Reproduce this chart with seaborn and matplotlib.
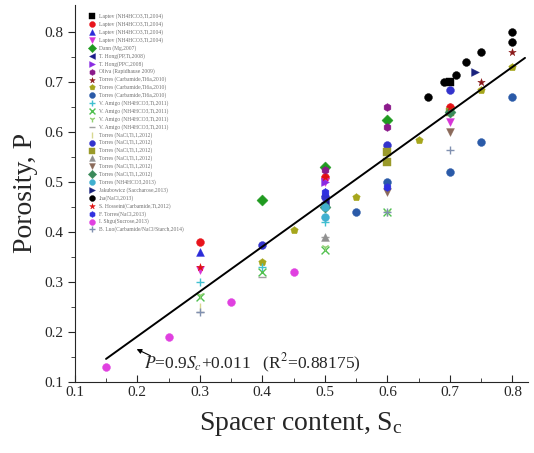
import numpy as np
import pandas as pd
import matplotlib
matplotlib.use("Agg")
import matplotlib.pyplot as plt
import seaborn as sns

# series: label, marker, colour, x values, y values
labels = [
    "Laptev (NH4HCO3,Ti,2004)", "Laptev (NH4HCO3,Ti,2004)", "Laptev (NH4HCO3,Ti,2004)",
    "Laptev (NH4HCO3,Ti,2004)", "Dann (Mg,2007)", "T. Hong(PP,Ti,2008)", "T. Hong(PPC,2008)",
    "Oliva (Rapidhause 2009)", "Torres (Carbamide,Ti6a,2010)", "Torres (Carbamide,Ti6a,2010)",
    "Torres (Carbamide,Ti6a,2010)", "V. Amigo (NH4HCO3,Ti,2011)", "V. Amigo (NH4HCO3,Ti,2011)",
    "V. Amigo (NH4HCO3,Ti,2011)", "V. Amigo (NH4HCO3,Ti,2011)", "Torres (NaCl,Ti,1,2012)",
    "Torres (NaCl,Ti,1,2012)", "Torres (NaCl,Ti,1,2012)", "Torres (NaCl,Ti,1,2012)",
    "Torres (NaCl,Ti,1,2012)", "Torres (NaCl,Ti,1,2012)", "Torres (NH4HCO3,2013)",
    "Jakubowicz (Saccharose,2013)", "Jha(NaCl,2013)", "S. Hosseini(Carbamide,Ti,2012)",
    "F. Torres(NaCl,2013)", "I. Shgu(Sucrose,2013)", "B. Luo(Carbamide/NaCl/Starch,2014)",
]
markers = ["s", "o", "^", "v", "D", "<", ">", "h", "*", "p", "o", "+", "x", "1", "_",
           "|", "o", "s", "^", "v", "D", "o", ">", "o", "*", "h", "o", "+"]
colors = ["black", "#e8141c", "#2b2bd9", "#d633d6", "#1f9a1f", "#1c1c8c", "#8a2be2",
          "#8b1a8b", "#8b1a1a", "#a6a61c", "#2a5aa8", "#40c0d0", "#50c050", "#90d070",
          "#a0a0a0", "#d8d890", "#3333cc", "#9a9a2a", "#909090", "#8b6a5a", "#3a8a5a",
          "#40b0d0", "#1a237e", "black", "#e01010", "#3030e0", "#e040e0", "#8090b0"]
xs = [
    [0.7], [0.3, 0.5, 0.7], [0.3, 0.5], [0.3, 0.5, 0.7], [0.4, 0.5, 0.6], [0.5], [0.5],
    [0.6, 0.6, 0.5], [0.75, 0.8], [0.4, 0.45, 0.55, 0.65, 0.75, 0.8],
    [0.55, 0.6, 0.7, 0.75, 0.8], [0.3, 0.4, 0.5], [0.3, 0.4, 0.5, 0.6], [0.3, 0.5, 0.6],
    [0.3, 0.4, 0.5], [0.3], [0.4, 0.5, 0.6, 0.7], [0.6, 0.6, 0.7], [0.5], [0.6, 0.7],
    [0.5, 0.7], [0.5, 0.5], [0.74], [0.665, 0.69, 0.71, 0.725, 0.75, 0.8, 0.8],
    [0.3, 0.5, 0.7], [0.6, 0.5], [0.15, 0.25, 0.35, 0.45], [0.3, 0.6, 0.7],
]
ys = [
    [0.70], [0.38, 0.51, 0.65], [0.36, 0.48], [0.325, 0.50, 0.62], [0.465, 0.53, 0.625],
    [0.46], [0.50], [0.65, 0.61, 0.525], [0.70, 0.76], [0.34, 0.405, 0.47, 0.585, 0.685, 0.73],
    [0.44, 0.50, 0.52, 0.58, 0.67], [0.30, 0.33, 0.42], [0.27, 0.32, 0.365, 0.44],
    [0.275, 0.37, 0.44], [0.24, 0.31, 0.39], [0.25], [0.375, 0.47, 0.575, 0.685],
    [0.56, 0.54, 0.64], [0.39], [0.48, 0.60], [0.45, 0.64], [0.43, 0.45], [0.72],
    [0.67, 0.70, 0.715, 0.74, 0.76, 0.78, 0.80], [0.33, 0.51, 0.65], [0.49, 0.48],
    [0.13, 0.19, 0.26, 0.32], [0.24, 0.44, 0.565],
]

# linear fit P = 0.9 Sc + 0.011
fit_x = np.array([0.15, 0.82])
fit_y = 0.9 * fit_x + 0.011

sns.set_style("ticks")
plt.rcParams["font.family"] = ["Liberation Serif", "DejaVu Serif"]
plt.rcParams["mathtext.fontset"] = "stix"

fig = plt.figure(figsize=(5.34, 4.53), dpi=100)
ax = fig.add_axes([0.14, 0.157, 0.849, 0.832])

for i in range(len(labels)):
    d = pd.DataFrame({"x": xs[i], "y": ys[i]})
    lw = 1.0 if markers[i] in ["+", "x", "1", "_", "|"] else 0.3
    sns.scatterplot(data=d, x="x", y="y", ax=ax, marker=markers[i], color=colors[i],
                    s=32, linewidth=lw, edgecolor=colors[i] if lw < 1 else None,
                    label=labels[i], zorder=3)

sns.lineplot(x=fit_x, y=fit_y, ax=ax, color="black", lw=1.4, zorder=4, legend=False)

ax.text(0.21, 0.138, r"$P$=0.9$S_c$+0.011   (R$^2$=0.88175)", fontsize=12.5, va="center")
ax.annotate("", xy=(0.195, 0.168), xytext=(0.225, 0.15),
            arrowprops=dict(arrowstyle="-|>", color="black", lw=0.8, mutation_scale=7))

ax.set_xlim(0.1, 0.825)
ax.set_ylim(0.1, 0.855)
ax.set_xticks(np.arange(0.1, 0.81, 0.1))
ax.set_yticks(np.arange(0.1, 0.81, 0.1))
ax.set_xticks(np.arange(0.15, 0.81, 0.1), minor=True)
ax.set_yticks(np.arange(0.15, 0.81, 0.1), minor=True)
ax.set_xticklabels([f"{v:.1f}" for v in np.arange(0.1, 0.81, 0.1)])
ax.set_yticklabels([f"{v:.1f}" for v in np.arange(0.1, 0.81, 0.1)])
ax.tick_params(axis="x", which="both", direction="in", labelsize=11, pad=3)
ax.tick_params(axis="y", which="both", direction="out", labelsize=11)
ax.tick_params(which="major", length=5)
ax.tick_params(which="minor", length=3)
sns.despine(ax=ax)

ax.set_xlabel(r"Spacer content, S$_\mathregular{c}$", fontsize=20, labelpad=8)
ax.set_ylabel("Porosity, P", fontsize=20, labelpad=4)

leg = ax.legend(loc="upper left", bbox_to_anchor=(0.025, 0.985), fontsize=4,
                frameon=False, labelspacing=0.38, handlelength=1.2, handletextpad=0.6,
                markerscale=0.75, borderpad=0)
for t in leg.get_texts():
    t.set_color("#707070")

fig.savefig("out.png", dpi=100)
